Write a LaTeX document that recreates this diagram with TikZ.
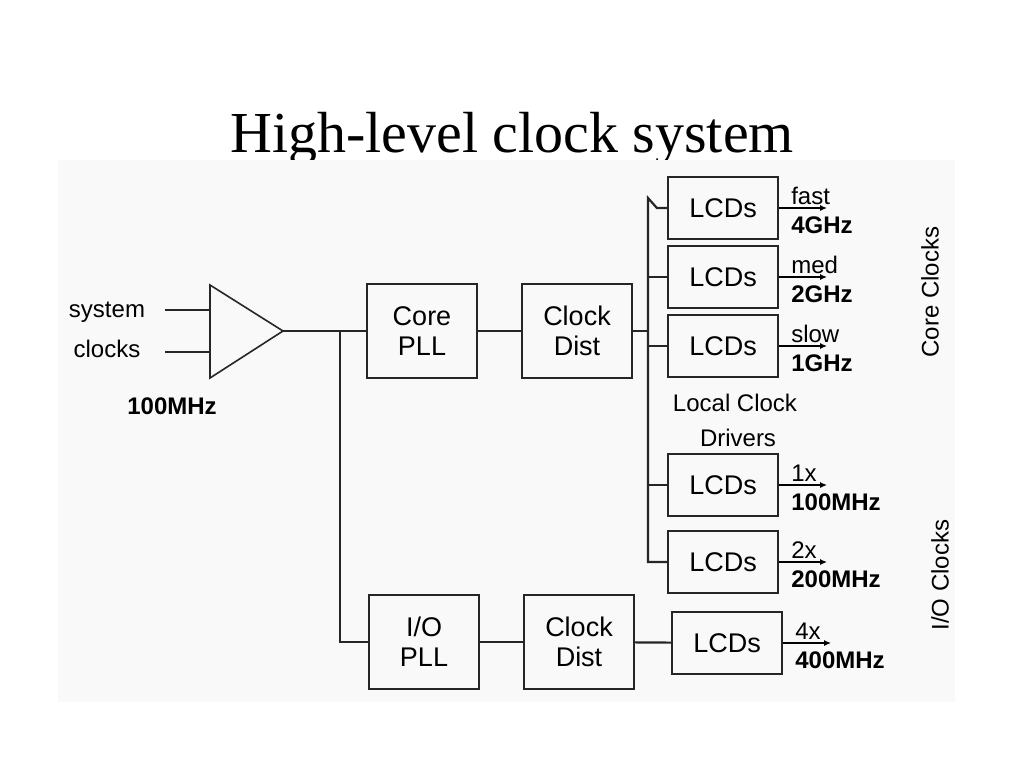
\documentclass[tikz,border=0pt]{standalone}
\usepackage{fontspec}
\setmainfont{Liberation Sans}
\newfontfamily\titlefont{Liberation Serif}
\usetikzlibrary{arrows.meta}
\begin{document}
\begin{tikzpicture}[x=1pt,y=-1pt,
  blk/.style={draw=black!85,line width=2.2pt,minimum width=110pt,minimum height=94pt,align=center,font=\fontsize{27}{30}\selectfont,inner sep=0},
  lcd/.style={draw=black!85,line width=2.2pt,minimum width=110pt,minimum height=62pt,font=\fontsize{27}{30}\selectfont,inner sep=0},
  wire/.style={line width=2.2pt,draw=black!85},
  outarrow/.style={line width=1.8pt,-{Latex[length=7pt,width=6pt]}},
  lbl/.style={font=\fontsize{24}{26}\selectfont,inner sep=0},
  blbl/.style={font=\fontsize{24}{26}\selectfont\bfseries,inner sep=0}]
\useasboundingbox (0,0) rectangle (1024,768);
\node[font=\titlefont\fontsize{58}{60}\selectfont,anchor=base] (title) at (512,152) {High-level clock system};
\fill[fill=gray!5] (58,160) rectangle (955,702);
\node[lbl] (sys) at (107,312) {system};
\node[lbl] (clk) at (107,349) {clocks};
\node[blbl] (mhz) at (172,406) {100MHz};
\coordinate (a1) at (165,310); \coordinate (a2) at (165,352);
\draw[wire,line width=1.6pt] (a1) -- (210,310);
\draw[wire,line width=1.6pt] (a2) -- (210,352);
\draw[wire,line width=1.6pt] (210,285) -- (210,378) -- (283,331) -- cycle;
\node[blk] (cpll) at (422,331) {Core\\PLL};
\node[blk] (cdist) at (577,331) {Clock\\Dist};
\node[blk] (iopll) at (424,642) {I/O\\PLL};
\node[blk] (iodist) at (579,642) {Clock\\Dist};
\coordinate (amp) at (283,331);
\coordinate (j1) at (340,331);
\draw[wire] (amp) -- (cpll.west);
\draw[wire] (j1) |- (iopll.west);
\draw[wire] (cpll) -- (cdist);
\draw[wire] (iopll) -- (iodist);
\node[lcd] (l1) at (723,208) {LCDs};
\node[lcd] (l2) at (723,277) {LCDs};
\node[lcd] (l3) at (723,346) {LCDs};
\node[lcd] (l4) at (723,485) {LCDs};
\node[lcd] (l5) at (723,562) {LCDs};
\node[lcd] (l6) at (727,643) {LCDs};
\coordinate (bb) at (648,562);
\draw[wire] (cdist.east) -- (648,331);
\draw[wire] (l1.west) -- ++(-10,0) -- (648,198) -- (bb) -- (l5.west);
\draw[wire] (l2.west) -- (648,277);
\draw[wire] (l3.west) -- (648,346);
\draw[wire] (l4.west) -- (648,485);
\draw[wire] (iodist) -- (l6);
\foreach \n/\t/\b in {l1/fast/4GHz,l2/med/2GHz,l3/slow/1GHz,l4/1x/100MHz,l5/2x/200MHz,l6/4x/400MHz}{
  \draw[outarrow] (\n.east) -- ++(48,0);
  \node[lbl,anchor=south west] at ([xshift=12pt,yshift=3pt]\n.east) {\t};
  \node[blbl,anchor=north west] at ([xshift=12pt,yshift=-9pt]\n.east) {\b};
}
\node[lbl] (lcdlbl) at (735,403) {Local Clock};
\node[lbl] (drv) at (738,438) {Drivers};
\node[lbl,rotate=90] (cc) at (930,292) {Core Clocks};
\node[lbl,rotate=90] (ioc) at (940,575) {I/O Clocks};
\end{tikzpicture}
\end{document}
